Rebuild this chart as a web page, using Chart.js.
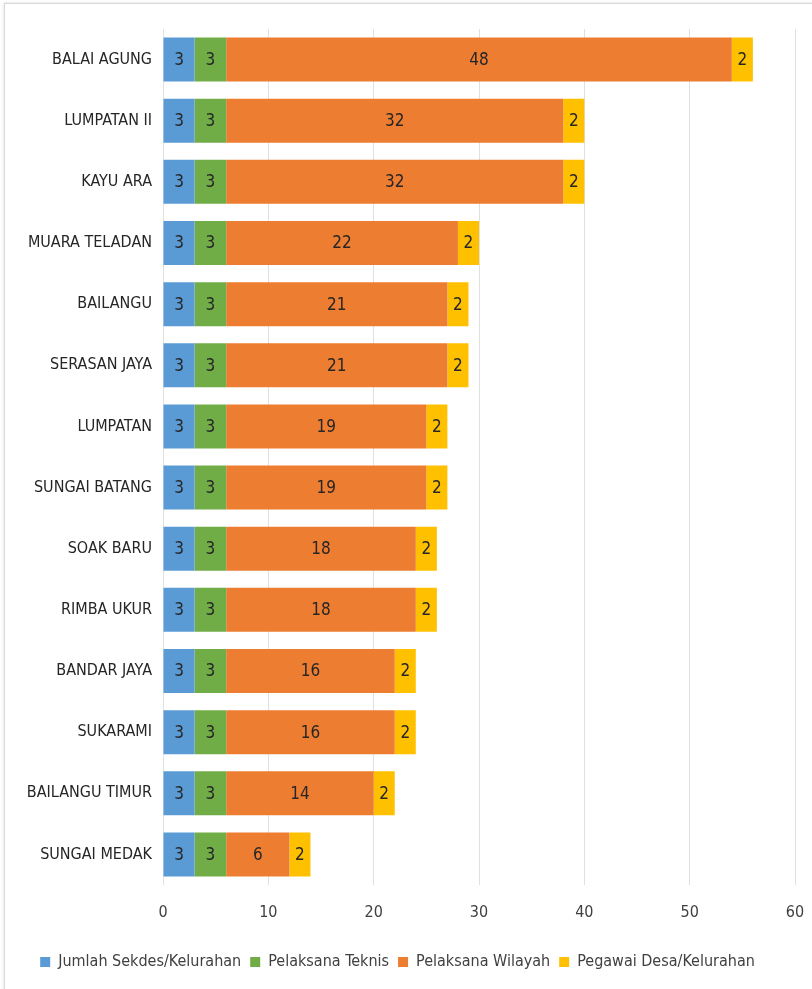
<!DOCTYPE html>
<html>
<head>
<meta charset="utf-8">
<script src="https://cdn.jsdelivr.net/npm/chart.js@4.4.0/dist/chart.umd.min.js"></script>
<style>
html,body{margin:0;padding:0;background:#fff;}
#frame{position:absolute;left:4px;top:3px;width:820px;height:1000px;border:1px solid #d9d9d9;box-shadow:0 0 3px rgba(0,0,0,0.15);}
#wrap{position:absolute;left:0;top:0;width:812px;height:989px;}
</style>
</head>
<body>
<div id="frame"></div>
<div id="wrap"><canvas id="c"></canvas></div>
<script>
const categories = ["BALAI AGUNG","LUMPATAN II","KAYU ARA","MUARA TELADAN","BAILANGU","SERASAN JAYA","LUMPATAN","SUNGAI BATANG","SOAK BARU","RIMBA UKUR","BANDAR JAYA","SUKARAMI","BAILANGU TIMUR","SUNGAI MEDAK"];
const seriesNames = ["Jumlah Sekdes/Kelurahan","Pelaksana Teknis","Pelaksana Wilayah","Pegawai Desa/Kelurahan"];
const sekdes = [3,3,3,3,3,3,3,3,3,3,3,3,3,3];
const teknis = [3,3,3,3,3,3,3,3,3,3,3,3,3,3];
const wilayah = [48,32,32,22,21,21,19,19,18,18,16,16,14,6];
const pegawai = [2,2,2,2,2,2,2,2,2,2,2,2,2,2];
const xTicks = [0,10,20,30,40,50,60];
const colors = ["#5B9BD5","#70AD47","#ED7D31","#FFC000"];
const FONT = "'Liberation Sans Narrow','DejaVu Sans Condensed',sans-serif";

const labelPlugin = {
  id:'segLabels',
  afterDatasetsDraw(chart){
    const ctx = chart.ctx;
    ctx.save();
    ctx.font = "17px " + FONT;
    ctx.fillStyle = "#262626";
    ctx.textAlign = "center";
    ctx.textBaseline = "middle";
    chart.data.datasets.forEach((ds,i)=>{
      const meta = chart.getDatasetMeta(i);
      meta.data.forEach((el,j)=>{
        const v = ds.data[j];
        ctx.fillText(String(v),(el.x+el.base)/2, el.y+1);
      });
    });
    ctx.restore();
  }
};

new Chart(document.getElementById('c'),{
  type:'bar',
  data:{
    labels:categories,
    datasets:[sekdes,teknis,wilayah,pegawai].map((d,i)=>({
      label:seriesNames[i], data:d, backgroundColor:colors[i], borderWidth:0,
      categoryPercentage:0.72, barPercentage:1
    }))
  },
  options:{
    indexAxis:'y',
    responsive:true, maintainAspectRatio:false, animation:false,
    layout:{padding:{left:0,right:17,top:29,bottom:9}},
    scales:{
      x:{stacked:true,min:0,max:60,
        afterBuildTicks(s){s.ticks = xTicks.map(v=>({value:v}));},
        afterFit(s){s.height=60; s.paddingRight=0; s.paddingLeft=0;},
        grid:{color:'#e0e0e0',drawTicks:false,lineWidth:1},
        border:{display:false},
        ticks:{font:{family:FONT,size:16},color:'#404040',padding:18}
      },
      y:{stacked:true,
        afterFit(s){s.width=163;},
        grid:{display:false,drawTicks:false},
        border:{display:false},
        ticks:{font:{family:FONT,size:16},color:'#262626',padding:11}
      }
    },
    plugins:{
      legend:{position:'bottom',
        labels:{font:{family:FONT,size:16},color:'#404040',boxWidth:10,boxHeight:10,padding:9}},
      tooltip:{enabled:false}
    }
  },
  plugins:[labelPlugin]
});
</script>
</body>
</html>
